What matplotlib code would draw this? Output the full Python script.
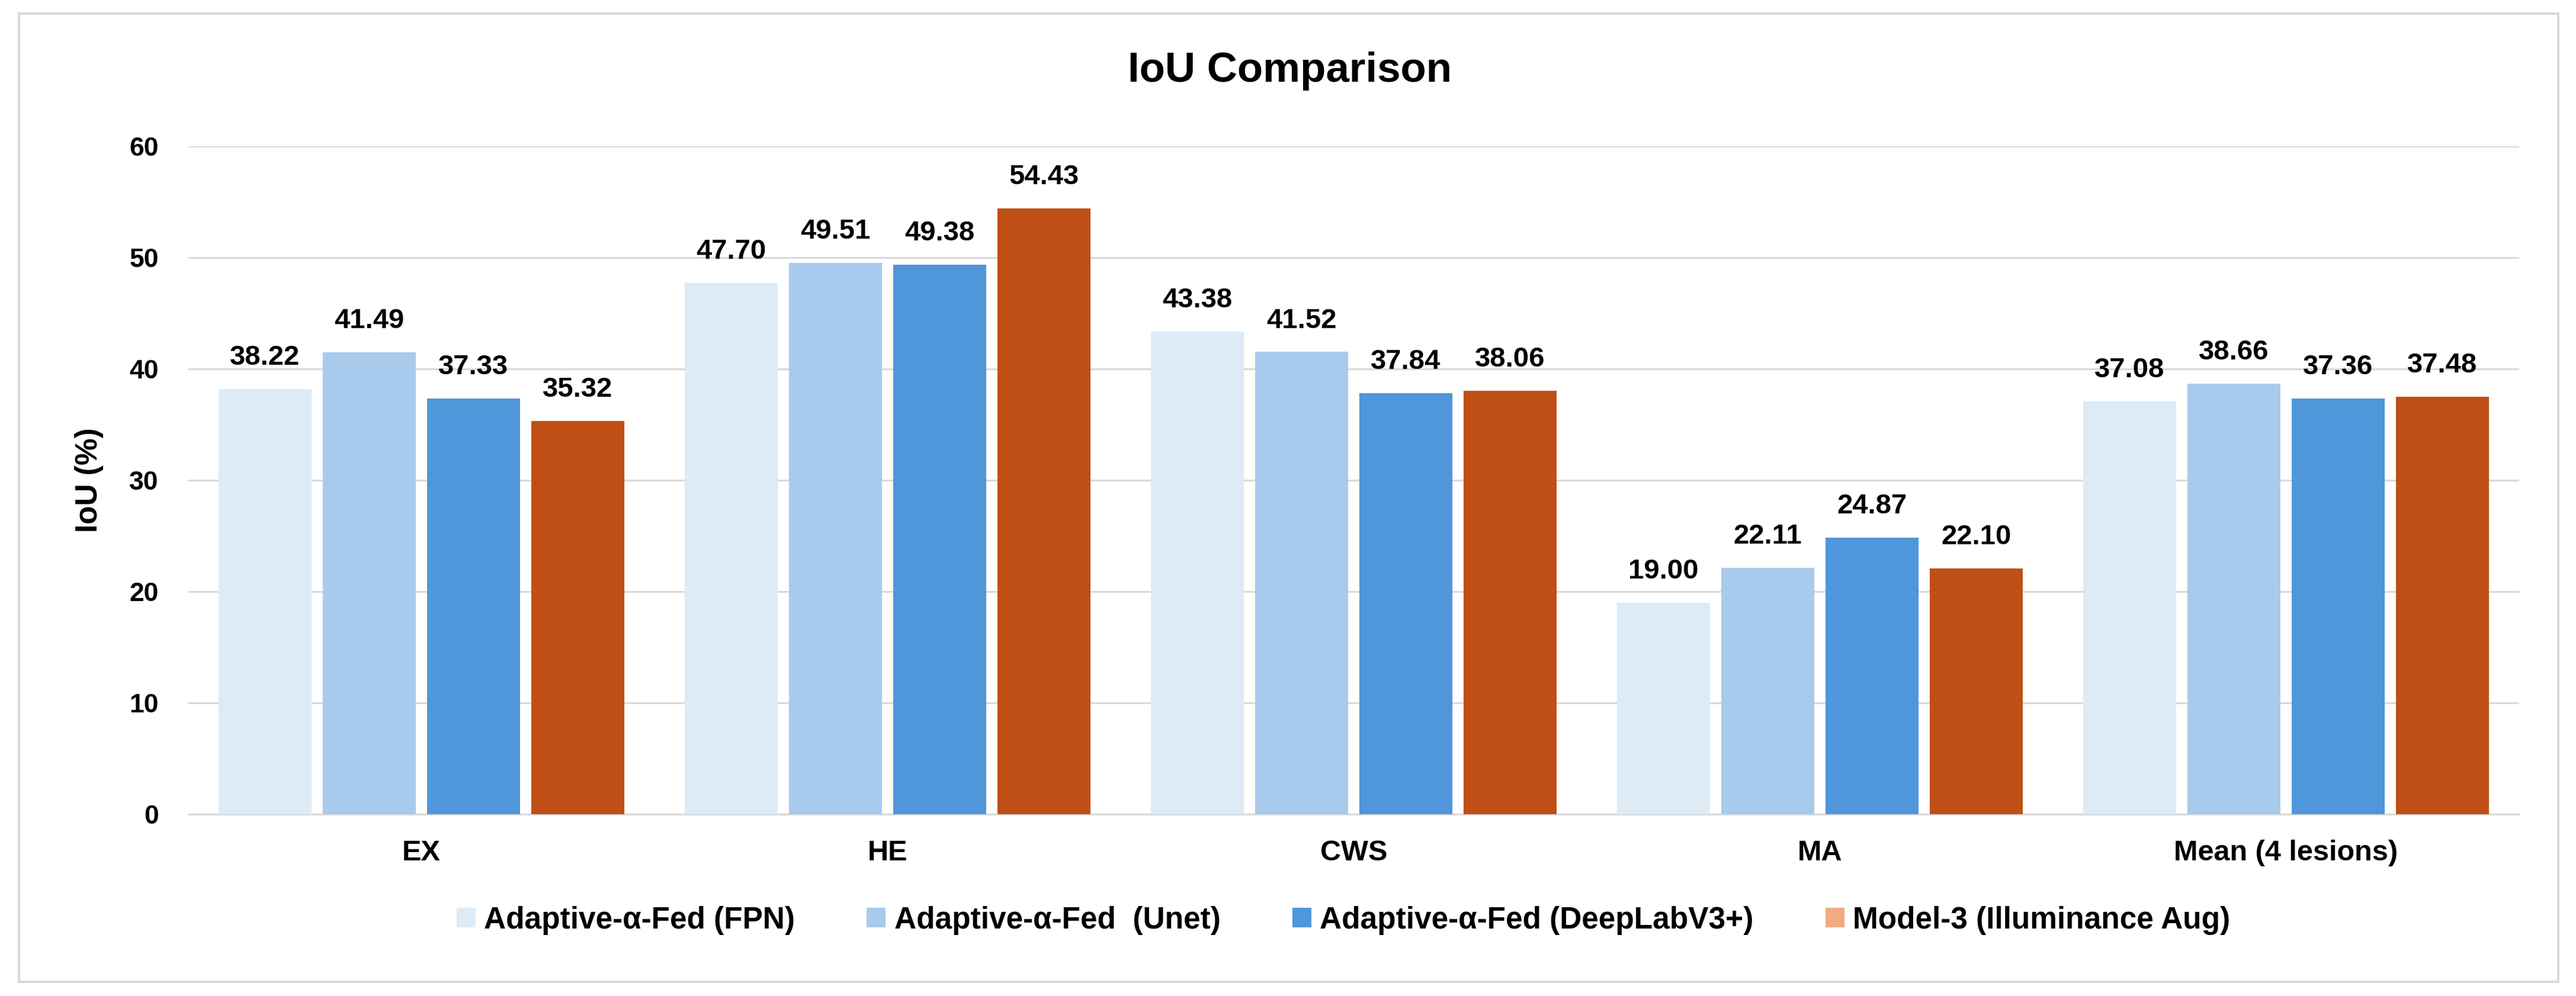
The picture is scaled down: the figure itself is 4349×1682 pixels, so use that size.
import numpy as np
import matplotlib.pyplot as plt
from matplotlib.patches import Rectangle, Patch

plt.rcParams['font.family'] = ['Liberation Sans', 'DejaVu Sans']
plt.rcParams['font.weight'] = 'bold'

categories = ['EX', 'HE', 'CWS', 'MA', 'Mean (4 lesions)']
series_names = ['Adaptive-\u03b1-Fed (FPN)', 'Adaptive-\u03b1-Fed  (Unet)',
                'Adaptive-\u03b1-Fed (DeepLabV3+)', 'Model-3 (Illuminance Aug)']
fpn = [38.22, 47.70, 43.38, 19.00, 37.08]
unet = [41.49, 49.51, 41.52, 22.11, 38.66]
deeplab = [37.33, 49.38, 37.84, 24.87, 37.36]
model3 = [35.32, 54.43, 38.06, 22.10, 37.48]
yticks = [0, 10, 20, 30, 40, 50, 60]

bar_colors = ['#DDEBF7', '#A8CAEC', '#5096DA', '#C04F15']
legend_colors = ['#DDEBF7', '#A8CAEC', '#5096DA', '#F2AA84']
grid_color = '#D9D9D9'

fig = plt.figure(figsize=(43.49, 16.82), dpi=100)
ax = fig.add_axes([0.0731, 0.1825, 0.9048, 0.6706])

# chart border
fig.patches.append(Rectangle((0.00736, 0.01427), 0.98574, 0.97203,
                             transform=fig.transFigure, fill=False,
                             edgecolor=grid_color, linewidth=2.9))

x = np.arange(len(categories))
width = 0.1995
pitch = 0.2236
all_series = [fpn, unet, deeplab, model3]
for i, vals in enumerate(all_series):
    pos = x + (i - 1.5) * pitch
    bars = ax.bar(pos, vals, width, color=bar_colors[i], zorder=3)
    for b, v in zip(bars, vals):
        ax.annotate('{:.2f}'.format(v), (b.get_x() + b.get_width() / 2, v),
                    xytext=(0, 29.5), textcoords='offset points',
                    ha='center', va='baseline', fontsize=34, fontweight='bold')

ax.set_xlim(-0.5, len(categories) - 0.5)
ax.set_ylim(0, 60)
ax.set_yticks(yticks)
ax.set_xticks(x)
ax.set_xticklabels(categories, fontsize=35, fontweight='bold')
ax.tick_params(axis='x', length=0, pad=31)
ax.tick_params(axis='y', length=0, pad=36, labelsize=32)
for lab in ax.get_yticklabels():
    lab.set_fontweight('bold')

ax.grid(axis='y', color=grid_color, linewidth=2.2, zorder=0)
for s in ['top', 'right', 'left']:
    ax.spines[s].set_visible(False)
ax.spines['bottom'].set_color(grid_color)
ax.spines['bottom'].set_linewidth(2.2)

ax.set_ylabel('IoU (%)', fontsize=37, fontweight='bold')
ax.yaxis.set_label_coords(-0.0363, 0.5)

fig.text(0.5008, 0.9287, 'IoU Comparison', ha='center', va='center',
         fontsize=51, fontweight='bold')

handles = [Patch(facecolor=c) for c in legend_colors]
fig.legend(handles, series_names, loc='center', bbox_to_anchor=(0.5215, 0.076),
           ncol=4, frameon=False, prop={'size': 37, 'weight': 'bold'},
           handlelength=0.62, handleheight=0.6, handletextpad=0.28,
           columnspacing=2.36)

fig.savefig('out.png', dpi=100)
